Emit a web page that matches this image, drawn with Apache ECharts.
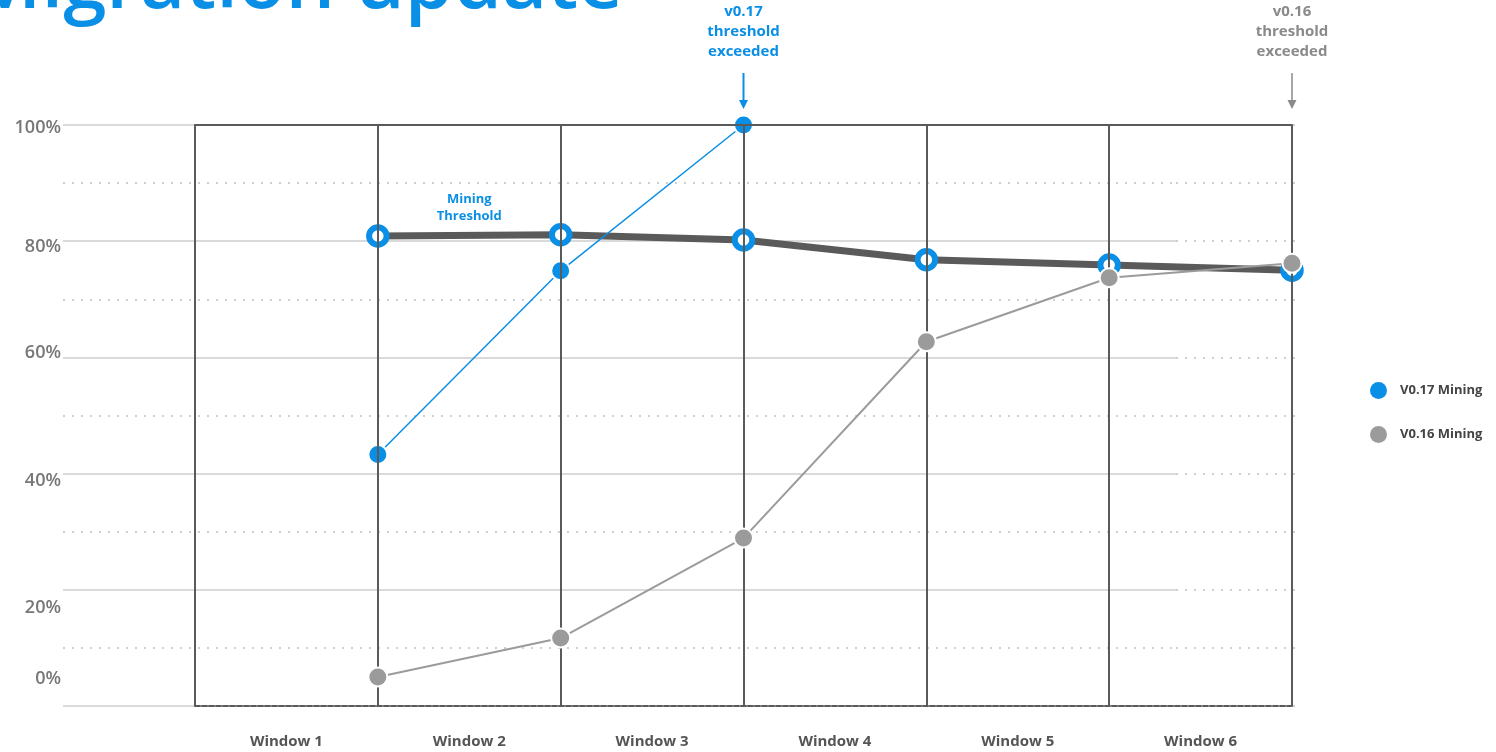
<!DOCTYPE html>
<html><head><meta charset="utf-8">
<script src="https://cdn.jsdelivr.net/npm/echarts@6/dist/echarts.min.js"></script>
<style>html,body{margin:0;padding:0;background:#fff;overflow:hidden}#c{width:1496px;height:752px}</style>
</head><body><div id="c"></div>
<script>
// ---- data ----
const windows = ['Window 1', 'Window 2', 'Window 3', 'Window 4', 'Window 5', 'Window 6'];
const windowEnd = [1, 2, 3, 4, 5, 6];            // data points sit on the end boundary of each window
const v17Mining = [43.3, 74.9, 100];               // % of blocks, windows 1-3
const v16Mining = [5.0, 11.7, 28.9, 62.7, 73.7, 76.2];
const miningThreshold = [80.9, 81.1, 80.2, 76.8, 75.9, 75.0];
const yTicks = [0, 20, 40, 60, 80, 100];
const titleText = 'Migration update';
const note17 = 'v0.17\nthreshold\nexceeded';
const note16 = 'v0.16\nthreshold\nexceeded';
const thresholdNote = 'Mining\nThreshold';

const BLUE = '#0a8fe6', GRAY = '#9b9b9b', DARK = '#5a5a5a', LIGHT = '#dadada';
const FONT = "'Open Sans', sans-serif";

const pair = (vals) => vals.map((v, i) => [windowEnd[i], v]);

// nudge of each y label (styling only, mirrors the reference's hand-placed labels)
const labelNudge = { 0: -27, 20: 18, 40: 7, 60: -5, 80: 6, 100: 3 };
const rich = {};
yTicks.forEach(t => {
  const d = labelNudge[t] || 0;
  rich['t' + t] = {
    fontFamily: FONT, fontSize: 18, fontWeight: 600, color: '#777',
    padding: d > 0 ? [2 * d, 0, 0, 0] : [0, 0, -2 * d, 0]
  };
});

const chart = echarts.init(document.getElementById('c'), null, { renderer: 'canvas' });

const option = {
  animation: false,
  backgroundColor: '#fff',
  grid: [
    { left: 63, right: 320, top: 125, bottom: 46 },   // light horizontal rules + y labels
    { left: 195, right: 204, top: 125, bottom: 46 },  // data area
    { left: 1176, right: 197, top: 125, bottom: 46 }  // dotted continuation on the right
  ],
  xAxis: [
    { gridIndex: 0, type: 'value', min: 0, max: 1, show: false },
    {
      gridIndex: 1, type: 'category', data: windows, boundaryGap: true, position: 'bottom', z: 5,
      axisLine: { show: true, lineStyle: { color: DARK, width: 2, type: [5, 2] } },
      axisTick: { show: false },
      splitLine: { show: true, interval: 0, lineStyle: { color: DARK, width: 2 } },
      axisLabel: { interval: 0, margin: 28, fontFamily: FONT, fontSize: 15, fontWeight: 700, color: '#555' }
    },
    {
      gridIndex: 1, type: 'value', min: 0, max: 6, position: 'top', z: 5,
      axisLine: { show: true, onZero: false, lineStyle: { color: DARK, width: 2 } },
      axisTick: { show: false }, axisLabel: { show: false }, splitLine: { show: false }
    },
    { gridIndex: 2, type: 'value', min: 0, max: 1, show: false }
  ],
  yAxis: [
    {
      gridIndex: 0, type: 'value', min: 0, max: 100, interval: 20,
      axisLine: { show: false }, axisTick: { show: false },
      axisLabel: { margin: 2, formatter: v => '{t' + v + '|' + v + '%}', rich: rich },
      splitLine: { show: true, lineStyle: { color: LIGHT, width: 2 } },
      minorTick: { show: false, splitNumber: 2 },
      minorSplitLine: { show: true, lineStyle: { color: '#cfcfcf', width: 2, type: [2, 7] } }
    },
    {
      gridIndex: 1, type: 'value', min: 0, max: 100, interval: 20,
      axisLine: { show: false }, axisTick: { show: false }, axisLabel: { show: false },
      splitLine: { show: false }
    },
    {
      gridIndex: 2, type: 'value', min: 0, max: 100, interval: 10,
      axisLine: { show: false }, axisTick: { show: false }, axisLabel: { show: false },
      splitLine: { show: true, lineStyle: { color: '#cfcfcf', width: 2, type: [2, 7] } }
    }
  ],
  legend: {
    orient: 'vertical', left: 1365, top: 377, itemWidth: 17, itemHeight: 17, itemGap: 27,
    icon: 'circle',
    textStyle: { fontFamily: FONT, fontSize: 13, fontWeight: 700, color: '#444', padding: [0, 0, 0, 8] },
    data: [
      { name: 'V0.17 Mining', itemStyle: { color: BLUE, borderWidth: 0 } },
      { name: 'V0.16 Mining', itemStyle: { color: GRAY, borderWidth: 0 } }
    ]
  },
  series: [
    {
      name: 'Mining Threshold', type: 'line', xAxisIndex: 2, yAxisIndex: 1, z: 3,
      data: pair(miningThreshold),
      lineStyle: { color: DARK, width: 7 },
      symbol: 'circle', symbolSize: 17.5,
      itemStyle: { color: '#fff', borderColor: BLUE, borderWidth: 6 }
    },
    {
      name: 'V0.17 Mining', type: 'line', xAxisIndex: 2, yAxisIndex: 1, z: 4,
      data: pair(v17Mining),
      lineStyle: { color: BLUE, width: 1.5 },
      symbol: 'circle', symbolSize: 19,
      itemStyle: { color: BLUE, borderColor: '#fff', borderWidth: 2 }
    },
    {
      name: 'V0.16 Mining', type: 'line', xAxisIndex: 2, yAxisIndex: 1, z: 5,
      data: pair(v16Mining),
      lineStyle: { color: GRAY, width: 2 },
      symbol: 'circle', symbolSize: 19,
      itemStyle: { color: GRAY, borderColor: '#fff', borderWidth: 2 }
    }
  ]
};
chart.setOption(option);

// ---- annotations placed through the chart's own scales ----
const toPx = (pt) => chart.convertToPixel({ xAxisIndex: 2, yAxisIndex: 1 }, pt);
function arrowNote(pt, text, color, lw) {
  const p = toPx(pt);
  return [
    { type: 'text', z: 10, style: { text: text, x: p[0], y: p[1] - 123, align: 'center', verticalAlign: 'top',
        fontFamily: FONT, fontSize: 15, fontWeight: 700, lineHeight: 20, fill: color } },
    { type: 'line', z: 10, shape: { x1: p[0], y1: p[1] - 52, x2: p[0], y2: p[1] - 22 },
      style: { stroke: color, lineWidth: lw } },
    { type: 'polygon', z: 10, shape: { points: [[p[0] - 4.5, p[1] - 25], [p[0] + 4.5, p[1] - 25], [p[0], p[1] - 16]] },
      style: { fill: color } }
  ];
}
const thrLabelPt = toPx([1.5, 85.7]);
chart.setOption({
  graphic: [
    { type: 'text', z: 10, style: { text: titleText, x: 623, y: -14, align: 'right', verticalAlign: 'middle',
        fontFamily: FONT, fontSize: 78, fontWeight: 600, fill: BLUE } },
    ...arrowNote([windowEnd[2], v17Mining[2]], note17, BLUE, 2),
    ...arrowNote([windowEnd[5], 100], note16, '#8a8a8a', 1.5),
    { type: 'text', z: 10, style: { text: thresholdNote, x: thrLabelPt[0], y: thrLabelPt[1], align: 'center', verticalAlign: 'middle',
        fontFamily: FONT, fontSize: 13, fontWeight: 700, lineHeight: 17, fill: BLUE } }
  ]
});
</script>
</body></html>
